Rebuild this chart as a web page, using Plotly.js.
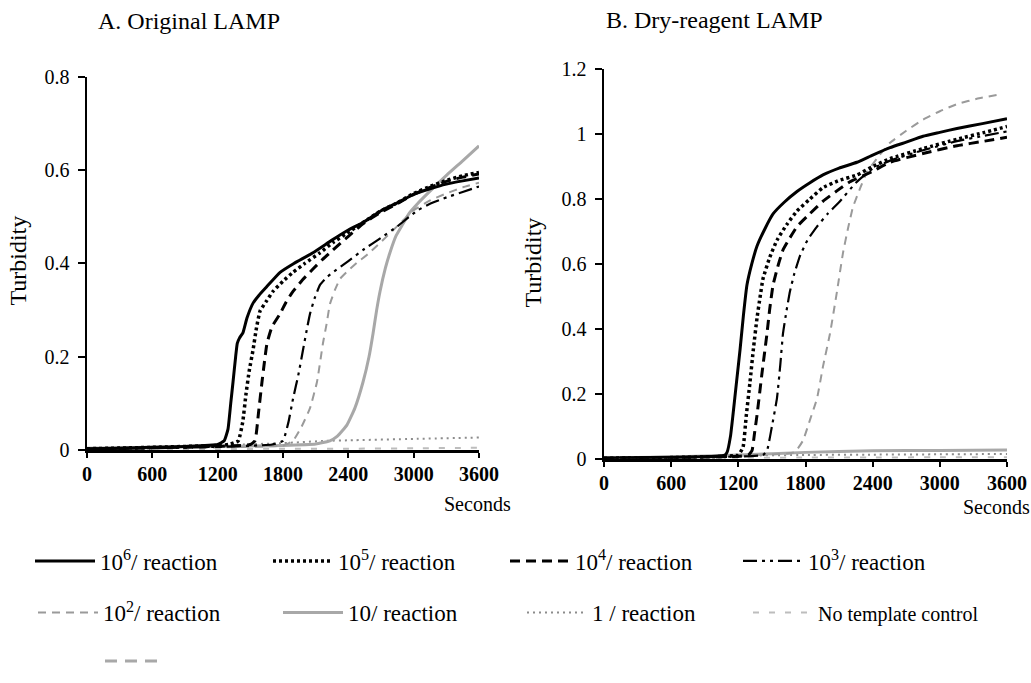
<!DOCTYPE html>
<html>
<head>
<meta charset="utf-8">
<script src="https://cdn.plot.ly/plotly-3.0.1.min.js"></script>
<style>html,body{margin:0;padding:0;background:#fff;}#chart{width:1031px;height:683px;}</style>
</head>
<body>
<div id="chart"></div>
<script>
// ---------- Data (seconds, turbidity) ----------
// Panel A: Original LAMP
var tA_1e6 = [0,300,600,900,1200,1260,1295,1320,1341,1365,1380,1400,1433,1469,1525,1580,1650,1773,1900,2075,2250,2388,2550,2700,2850,3000,3150,3300,3450,3600];
var yA_1e6 = [0.003,0.004,0.006,0.008,0.012,0.02,0.045,0.10,0.146,0.20,0.229,0.24,0.252,0.283,0.315,0.332,0.35,0.381,0.40,0.423,0.45,0.47,0.49,0.513,0.53,0.548,0.56,0.57,0.577,0.583];
var tA_1e5 = [0,600,1200,1300,1389,1430,1460,1490,1525,1555,1589,1650,1708,1800,1892,2000,2140,2260,2388,2550,2700,2850,3000,3150,3300,3450,3600];
var yA_1e5 = [0.003,0.006,0.01,0.012,0.02,0.06,0.12,0.17,0.215,0.26,0.298,0.32,0.34,0.362,0.381,0.40,0.423,0.445,0.465,0.49,0.513,0.53,0.55,0.565,0.578,0.588,0.595];
var tA_1e4 = [0,600,1200,1500,1543,1575,1607,1630,1653,1700,1773,1830,1892,1980,2075,2160,2259,2400,2535,2700,2850,3000,3150,3300,3450,3600];
var yA_1e4 = [0.002,0.005,0.008,0.012,0.02,0.08,0.146,0.19,0.229,0.265,0.292,0.318,0.34,0.365,0.388,0.408,0.429,0.458,0.485,0.51,0.528,0.548,0.563,0.576,0.585,0.592];
var tA_1e3 = [0,600,1200,1700,1800,1850,1892,1940,1984,2020,2048,2090,2140,2200,2259,2400,2535,2700,2847,3031,3150,3306,3450,3600];
var yA_1e3 = [0.002,0.004,0.007,0.012,0.02,0.06,0.11,0.16,0.215,0.26,0.292,0.325,0.354,0.37,0.381,0.405,0.429,0.455,0.479,0.513,0.528,0.542,0.553,0.565];
var tA_1e2 = [0,1200,1800,1892,1970,2048,2112,2167,2200,2231,2280,2324,2400,2480,2580,2691,2850,2994,3150,3300,3450,3600];
var yA_1e2 = [0.002,0.006,0.01,0.02,0.05,0.09,0.146,0.229,0.27,0.313,0.345,0.367,0.385,0.402,0.42,0.444,0.48,0.513,0.535,0.55,0.563,0.573];
var tA_10 = [0,600,1200,1800,2100,2231,2300,2388,2460,2535,2590,2627,2660,2691,2740,2782,2840,2902,2960,3031,3150,3306,3450,3600];
var yA_10 = [0.004,0.006,0.008,0.01,0.013,0.02,0.03,0.054,0.09,0.146,0.20,0.25,0.30,0.34,0.39,0.423,0.46,0.485,0.508,0.527,0.555,0.59,0.62,0.652];
var tA_1 = [0,600,1200,1800,2200,2400,3000,3600];
var yA_1 = [0.003,0.006,0.01,0.015,0.02,0.021,0.024,0.027];
var tA_ntc = [0,600,1200,1800,2400,3000,3600];
var yA_ntc = [0.002,0.002,0.002,0.003,0.003,0.004,0.005];

// Panel B: Dry-reagent LAMP
var tB_1e6 = [0,600,1000,1080,1099,1130,1152,1185,1215,1245,1277,1320,1367,1440,1510,1610,1724,1840,1956,2100,2260,2400,2555,2700,2850,3000,3153,3380,3600];
var yB_1e6 = [0.003,0.005,0.008,0.012,0.02,0.07,0.135,0.24,0.335,0.44,0.535,0.60,0.655,0.71,0.754,0.79,0.823,0.85,0.874,0.895,0.913,0.935,0.958,0.975,0.993,1.005,1.017,1.032,1.047];
var tB_1e5 = [0,600,1100,1200,1242,1270,1304,1335,1367,1395,1420,1480,1545,1630,1724,1840,1956,2100,2260,2400,2555,2850,3153,3400,3600];
var yB_1e5 = [0.002,0.004,0.008,0.012,0.036,0.13,0.236,0.34,0.434,0.50,0.554,0.62,0.673,0.72,0.763,0.80,0.835,0.857,0.874,0.90,0.924,0.955,0.984,1.005,1.023];
var tB_1e4 = [0,600,1200,1290,1322,1345,1367,1410,1456,1480,1510,1555,1599,1660,1724,1840,1956,2080,2197,2400,2555,2850,3153,3400,3600];
var yB_1e4 = [0.002,0.004,0.008,0.012,0.025,0.08,0.135,0.26,0.386,0.46,0.535,0.595,0.643,0.68,0.715,0.755,0.793,0.825,0.853,0.885,0.913,0.94,0.964,0.978,0.99];
var tB_1e3 = [0,600,1300,1420,1456,1500,1545,1575,1599,1630,1661,1700,1751,1820,1903,2000,2108,2250,2403,2555,2850,3153,3400,3600];
var yB_1e3 = [0.002,0.004,0.008,0.012,0.025,0.10,0.186,0.29,0.386,0.455,0.515,0.57,0.625,0.675,0.715,0.755,0.793,0.85,0.894,0.918,0.95,0.978,0.995,1.008];
var tB_1e2 = [0,600,1200,1700,1777,1840,1903,1956,2019,2081,2135,2180,2224,2290,2349,2450,2555,2700,2850,3000,3153,3350,3540];
var yB_1e2 = [0.003,0.005,0.01,0.02,0.056,0.12,0.186,0.284,0.386,0.515,0.634,0.71,0.775,0.835,0.883,0.93,0.973,1.01,1.044,1.07,1.092,1.11,1.122];
var tB_10 = [0,600,1200,1800,2400,3000,3600];
var yB_10 = [0.003,0.006,0.012,0.02,0.025,0.026,0.027];
var tB_1 = [0,600,1200,1800,2400,3000,3600];
var yB_1 = [0.002,0.005,0.01,0.012,0.013,0.014,0.015];
var tB_ntc = [0,600,1200,1800,2400,3000,3600];
var yB_ntc = [0.001,0.002,0.003,0.004,0.004,0.005,0.005];

// Legend labels and tick labels
var seriesNames = ['10<sup>6</sup>/ reaction','10<sup>5</sup>/ reaction','10<sup>4</sup>/ reaction','10<sup>3</sup>/ reaction',
                   '10<sup>2</sup>/ reaction','10/ reaction','1 / reaction','<span style="font-size:20px">No template control</span>'];
var xTickVals = [0,600,1200,1800,2400,3000,3600];
var xTickText = ['0','600','1200','1800','2400','3000','3600'];
var yTickValsA = [0,0.2,0.4,0.6,0.8];
var yTickTextA = ['0','0.2','0.4','0.6','0.8'];
var yTickValsB = [0,0.2,0.4,0.6,0.8,1,1.2];
var yTickTextB = ['0','0.2','0.4','0.6','0.8','1','1.2'];

// ---------- Styles ----------
var styles = [
  {color:'#000000', width:3,   dash:'solid'},
  {color:'#000000', width:3.5, dash:'3px,3px'},
  {color:'#000000', width:3,   dash:'10px,6px'},
  {color:'#000000', width:2.2, dash:'14px,5px,3px,5px,3px,5px'},
  {color:'#9a9a9a', width:2,   dash:'8px,6px'},
  {color:'#a8a8a8', width:3,   dash:'solid'},
  {color:'#8c8c8c', width:2,   dash:'2px,4px'},
  {color:'#bdbdbd', width:2,   dash:'6px,10px'}
];
var legendOf = ['legend','legend','legend','legend','legend2','legend2','legend2','legend2'];
var legendW = [163,162,158,130,170,169,151,180];

var seriesA = [[tA_1e6,yA_1e6],[tA_1e5,yA_1e5],[tA_1e4,yA_1e4],[tA_1e3,yA_1e3],[tA_1e2,yA_1e2],[tA_10,yA_10],[tA_1,yA_1],[tA_ntc,yA_ntc]];
var seriesB = [[tB_1e6,yB_1e6],[tB_1e5,yB_1e5],[tB_1e4,yB_1e4],[tB_1e3,yB_1e3],[tB_1e2,yB_1e2],[tB_10,yB_10],[tB_1,yB_1],[tB_ntc,yB_ntc]];

var traces = [];
var drawOrder = [7,6,5,4,3,2,1,0];
drawOrder.forEach(function(i){
  traces.push({x:seriesB[i][0], y:seriesB[i][1], xaxis:'x2', yaxis:'y2', type:'scatter', mode:'lines',
    line:{color:styles[i].color, width:styles[i].width, dash:styles[i].dash, shape:'spline', smoothing:0.4},
    showlegend:false, hoverinfo:'skip'});
});
drawOrder.forEach(function(i){
  traces.push({x:seriesA[i][0], y:seriesA[i][1], xaxis:'x', yaxis:'y', type:'scatter', mode:'lines',
    name:seriesNames[i], legend:legendOf[i], legendwidth:legendW[i], legendrank:i+1,
    line:{color:styles[i].color, width:styles[i].width, dash:styles[i].dash, shape:'spline', smoothing:0.4},
    showlegend:true, hoverinfo:'skip'});
});
// unlabeled legend sample (third row)
traces.push({x:[null], y:[null], xaxis:'x', yaxis:'y', type:'scatter', mode:'lines', name:' ',
  legend:'legend3', line:{color:'#a8a8a8', width:3, dash:'12px,8px'}, showlegend:true, hoverinfo:'skip'});

// ---------- Layout ----------
var W = 1031, H = 683;
function px(x){ return x / W; }
function py(y){ return 1 - y / H; }
var FONT = 'Liberation Serif';

function xAxis(domain, anchor){
  return {domain:domain, anchor:anchor, range:[0,3600], tickmode:'array', tickvals:xTickVals, ticktext:xTickText,
    showline:true, linecolor:'#000', linewidth:3, ticks:'outside', ticklen:5, tickwidth:2, tickcolor:'#000',
    showgrid:false, zeroline:false, ticklabelstandoff:-1,
    tickfont:{family:FONT, size:20, color:'#000', weight:'bold'}, fixedrange:true};
}
function yAxis(domain, anchor, range, vals, text){
  return {domain:domain, anchor:anchor, range:range, tickmode:'array', tickvals:vals, ticktext:text,
    showline:true, linecolor:'#000', linewidth:2.5, ticks:'outside', ticklen:7, tickwidth:2, tickcolor:'#000',
    showgrid:false, zeroline:false, ticklabelstandoff:4,
    tickfont:{family:FONT, size:20, color:'#000'}, fixedrange:true};
}

var legendBase = {orientation:'h', xanchor:'left', yanchor:'middle', itemwidth:60,
  font:{family:FONT, size:23, color:'#000'}, bgcolor:'rgba(0,0,0,0)', itemclick:false, itemdoubleclick:false,
  traceorder:'normal'};

var layout = {
  width:W, height:H, margin:{l:0,r:0,t:0,b:0}, paper_bgcolor:'#fff', plot_bgcolor:'#fff',
  font:{family:FONT, color:'#000'},
  xaxis: xAxis([px(87), px(479)], 'y'),
  yaxis: yAxis([py(463), py(79)], 'x', [0,0.8], yTickValsA, yTickTextA),
  xaxis2: xAxis([px(604), px(1007)], 'y2'),
  yaxis2: yAxis([py(472), py(71)], 'x2', [0,1.2], yTickValsB, yTickTextB),
  legend: Object.assign({}, legendBase, {x:px(30), y:py(577)}),
  legend2: Object.assign({}, legendBase, {x:px(33), y:py(630)}),
  legend3: Object.assign({}, legendBase, {x:px(100), y:py(680)}),
  annotations:[
    {text:'A. Original LAMP', xref:'paper', yref:'paper', x:px(96), y:py(22), xanchor:'left', yanchor:'middle', showarrow:false, font:{family:FONT, size:24}},
    {text:'B. Dry-reagent LAMP', xref:'paper', yref:'paper', x:px(604), y:py(21), xanchor:'left', yanchor:'middle', showarrow:false, font:{family:FONT, size:24}},
    {text:'Turbidity', xref:'paper', yref:'paper', x:px(18), y:py(268), xanchor:'center', yanchor:'middle', textangle:-90, showarrow:false, font:{family:FONT, size:24}},
    {text:'Turbidity', xref:'paper', yref:'paper', x:px(533), y:py(270), xanchor:'center', yanchor:'middle', textangle:-90, showarrow:false, font:{family:FONT, size:24}},
    {text:'Seconds', xref:'paper', yref:'paper', x:px(477), y:py(518), xanchor:'center', yanchor:'middle', showarrow:false, font:{family:FONT, size:20}},
    {text:'Seconds', xref:'paper', yref:'paper', x:px(996), y:py(521), xanchor:'center', yanchor:'middle', showarrow:false, font:{family:FONT, size:20}}
  ]
};

Plotly.newPlot('chart', traces, layout, {staticPlot:true, displayModeBar:false});
</script>
</body>
</html>
